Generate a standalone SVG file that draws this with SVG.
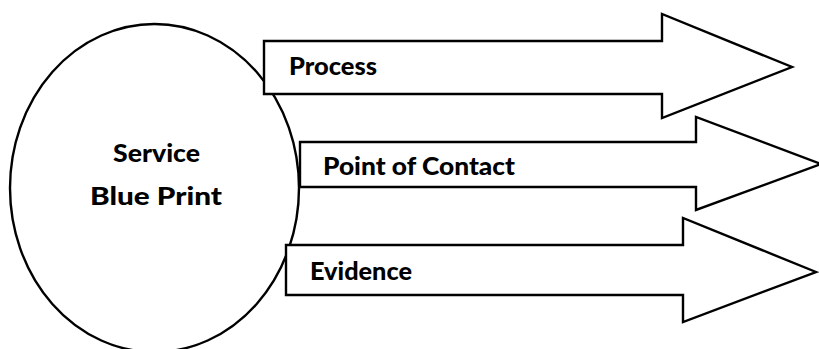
<svg xmlns="http://www.w3.org/2000/svg" width="819" height="349" viewBox="0 0 819 349">
  <style>
    .shape { fill: #ffffff; stroke: #000000; stroke-width: 2.4; stroke-linejoin: miter; }
    .label { font-family: Lato, "Open Sans", "Liberation Sans", sans-serif; font-weight: 900; font-size: 25.5px; fill: #000000; }
  </style>
  <rect x="0" y="0" width="819" height="349" fill="#ffffff"/>

  <!-- central ellipse -->
  <g id="service-blue-print">
    <ellipse class="shape" cx="154.5" cy="188" rx="144.5" ry="164"/>
    <text class="label" x="113" y="161.5" textLength="87" lengthAdjust="spacingAndGlyphs">Service</text>
    <text class="label" x="90" y="205" textLength="132" lengthAdjust="spacingAndGlyphs">Blue Print</text>
  </g>

  <!-- block arrows -->
  <g id="process">
    <path class="shape" d="M264,41 H662 V14 L792,67 L662,118 V94 H264 Z"/>
    <text class="label" x="289" y="75" textLength="88" lengthAdjust="spacingAndGlyphs">Process</text>
  </g>

  <g id="point-of-contact">
    <path class="shape" d="M300,142 H696 V117 L821,164 L696,210 V187 H300 Z"/>
    <text class="label" x="323" y="175" textLength="192" lengthAdjust="spacingAndGlyphs">Point of Contact</text>
  </g>

  <g id="evidence">
    <path class="shape" d="M286,245 H683 V218 L816,272 L683,322 V295 H286 Z"/>
    <text class="label" x="310" y="280" textLength="102" lengthAdjust="spacingAndGlyphs">Evidence</text>
  </g>
</svg>
